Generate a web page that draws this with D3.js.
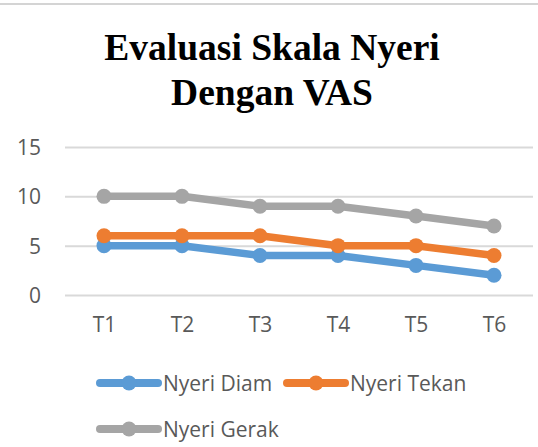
<!DOCTYPE html>
<html>
<head>
<meta charset="utf-8">
<script src="https://cdn.jsdelivr.net/npm/d3@7"></script>
<style>
  html, body { margin: 0; padding: 0; background: #fff; }
  svg { display: block; }
</style>
</head>
<body>
<script>
const categories = ["T1", "T2", "T3", "T4", "T5", "T6"];
const nyeriDiam  = [5, 5, 4, 4, 3, 2];
const nyeriTekan = [6, 6, 6, 5, 5, 4];
const nyeriGerak = [10, 10, 9, 9, 8, 7];
const yTicks = [0, 5, 10, 15];
const seriesNames = ["Nyeri Diam", "Nyeri Tekan", "Nyeri Gerak"];
const seriesColors = ["#5B9BD5", "#ED7D31", "#A5A5A5"];
const titleLines = ["Evaluasi Skala Nyeri", "Dengan VAS"];

const series = [
  { name: seriesNames[0], values: nyeriDiam,  color: seriesColors[0] },
  { name: seriesNames[1], values: nyeriTekan, color: seriesColors[1] },
  { name: seriesNames[2], values: nyeriGerak, color: seriesColors[2] }
];

const W = 538, H = 447;
const svg = d3.select("body").append("svg").attr("width", W).attr("height", H);

// top border
svg.append("line").attr("x1", 0).attr("x2", W).attr("y1", 4).attr("y2", 4)
  .attr("stroke", "#D4D4D4").attr("stroke-width", 2);

// title
const title = svg.append("text").attr("text-anchor", "middle")
  .attr("font-family", "'Liberation Serif', 'Times New Roman', serif")
  .attr("font-weight", "bold").attr("font-size", 37.5).attr("fill", "#000");
titleLines.forEach((t, i) => {
  title.append("tspan").attr("x", 272).attr("y", 60 + i * 45).text(t);
});

const x = d3.scalePoint().domain(categories).range([104, 494]);
const y = d3.scaleLinear().domain([0, 15]).range([295, 147]);

const font = "'Open Sans', 'Noto Sans', sans-serif";
const txtColor = "#595959";

// gridlines
const yAxis = d3.axisLeft(y).tickValues(yTicks).tickSize(-(533 - 65)).tickPadding(24);
const gy = svg.append("g").attr("transform", "translate(65,0)").call(yAxis);
gy.select(".domain").remove();
gy.selectAll(".tick line").attr("stroke", "#D9D9D9").attr("stroke-width", 2);
gy.selectAll(".tick text").attr("font-family", font).attr("font-size", 21)
  .attr("fill", txtColor).attr("dy", "0.36em");

// x axis labels
const xAxis = d3.axisBottom(x).tickSize(0).tickPadding(22);
const gx = svg.append("g").attr("transform", "translate(0,295)").call(xAxis);
gx.select(".domain").remove();
gx.selectAll(".tick text").attr("font-family", font).attr("font-size", 21)
  .attr("fill", txtColor);

// lines
const line = d3.line().x((d, i) => x(categories[i])).y(d => y(d));
series.forEach(s => {
  svg.append("path").datum(s.values).attr("d", line)
    .attr("fill", "none").attr("stroke", s.color).attr("stroke-width", 7.5)
    .attr("stroke-linejoin", "round");
  svg.append("g").selectAll("circle").data(s.values).join("circle")
    .attr("cx", (d, i) => x(categories[i])).attr("cy", d => y(d)).attr("r", 7.5)
    .attr("fill", s.color);
});

// legend
const legendPos = [[100, 383], [287, 383], [100, 429]];
series.forEach((s, i) => {
  const [lx, ly] = legendPos[i];
  const g = svg.append("g").attr("transform", `translate(${lx},${ly})`);
  g.append("line").attr("x1", 0).attr("x2", 58).attr("y1", 0).attr("y2", 0)
    .attr("stroke", s.color).attr("stroke-width", 8).attr("stroke-linecap", "round");
  g.append("circle").attr("cx", 29).attr("cy", 0).attr("r", 7.5).attr("fill", s.color);
  g.append("text").attr("x", 63).attr("y", 0).attr("dy", "0.36em").text(s.name)
    .attr("font-family", font).attr("font-size", 21).attr("fill", txtColor);
});
</script>
</body>
</html>
